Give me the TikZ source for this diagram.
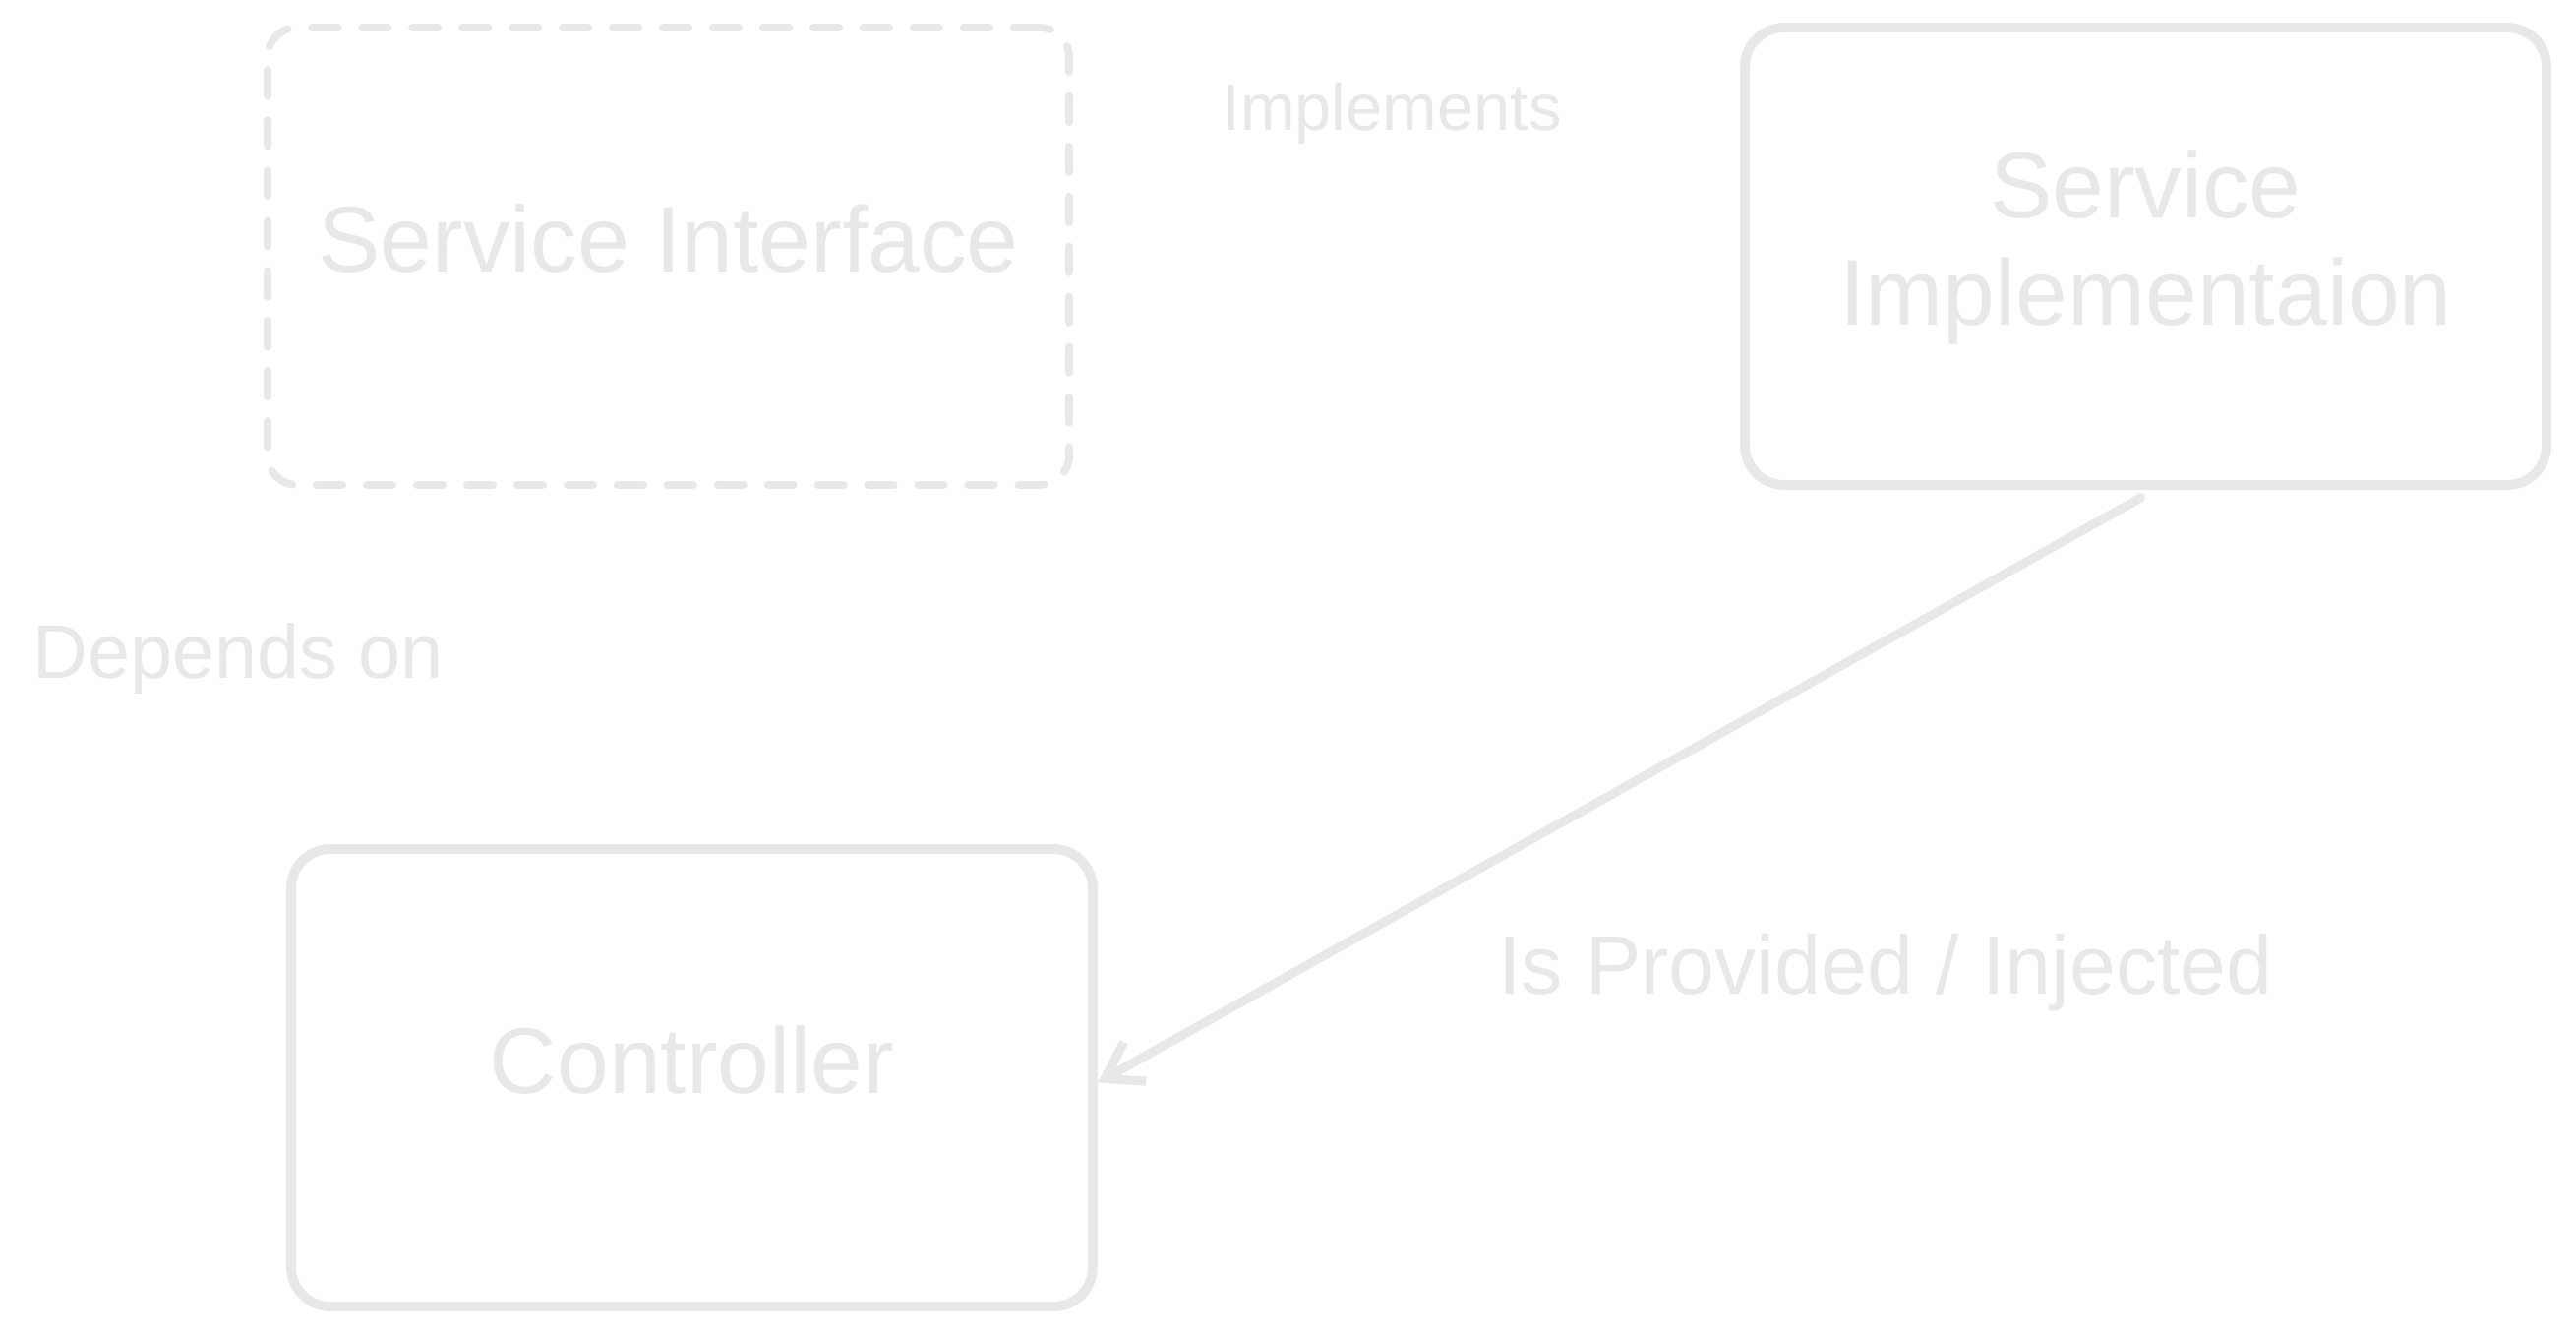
\documentclass[tikz,border=0pt]{standalone}
\usepackage{fontspec}
\setmainfont{Liberation Sans}
\usepackage{tikz}
\usepackage{xcolor}
\usetikzlibrary{arrows.meta, positioning}

\definecolor{sketchgray}{RGB}{232,232,232}

\begin{document}
\begin{tikzpicture}[
  box/.style={draw=sketchgray, line width=2.8pt, rounded corners=0.4cm,
    minimum width=8.15cm, minimum height=4.65cm, inner sep=0pt,
    text=sketchgray, align=center, font=\fontsize{27}{31}\selectfont,
    text depth=10.5pt},
  ifacebox/.style={box, line width=2.2pt, rounded corners=0.3cm,
    dash pattern=on 7.5pt off 7pt, line cap=round},
  lbl/.style={text=sketchgray, inner sep=0pt},
  link/.style={draw=sketchgray, line width=2.6pt, line cap=round,
    -{Straight Barb[length=10pt,width=13pt]}}
]
  \fill[white] (0,0) rectangle (26.19,13.56);
  \useasboundingbox (0,0) rectangle (26.19,13.56);

  % === TOP ROW: interface and implementation ===
  \node[ifacebox] (iface) at (6.795,10.955) {Service Interface};
  \node[box] (impl) at (21.815,10.955) {Service\\Implementaion};

  % === BOTTOM: controller ===
  \node[box] (ctrl) at (7.035,2.605) {Controller};

  % Floating labels
  \node[lbl, font=\fontsize{19}{22}\selectfont] (implements) at (14.15,12.41) {Implements};
  \node[lbl, font=\fontsize{22}{26}\selectfont, anchor=west] (dependson) at (0.33,6.86) {Depends on};
  \node[lbl, font=\fontsize{24}{28}\selectfont] (injected) at (19.17,3.67) {Is Provided / Injected};

  % Injection arrow
  \draw[link] ([xshift=-0.05cm,yshift=-0.08cm]impl.south) -- ([yshift=-0.05cm]ctrl.east);
\end{tikzpicture}
\end{document}
